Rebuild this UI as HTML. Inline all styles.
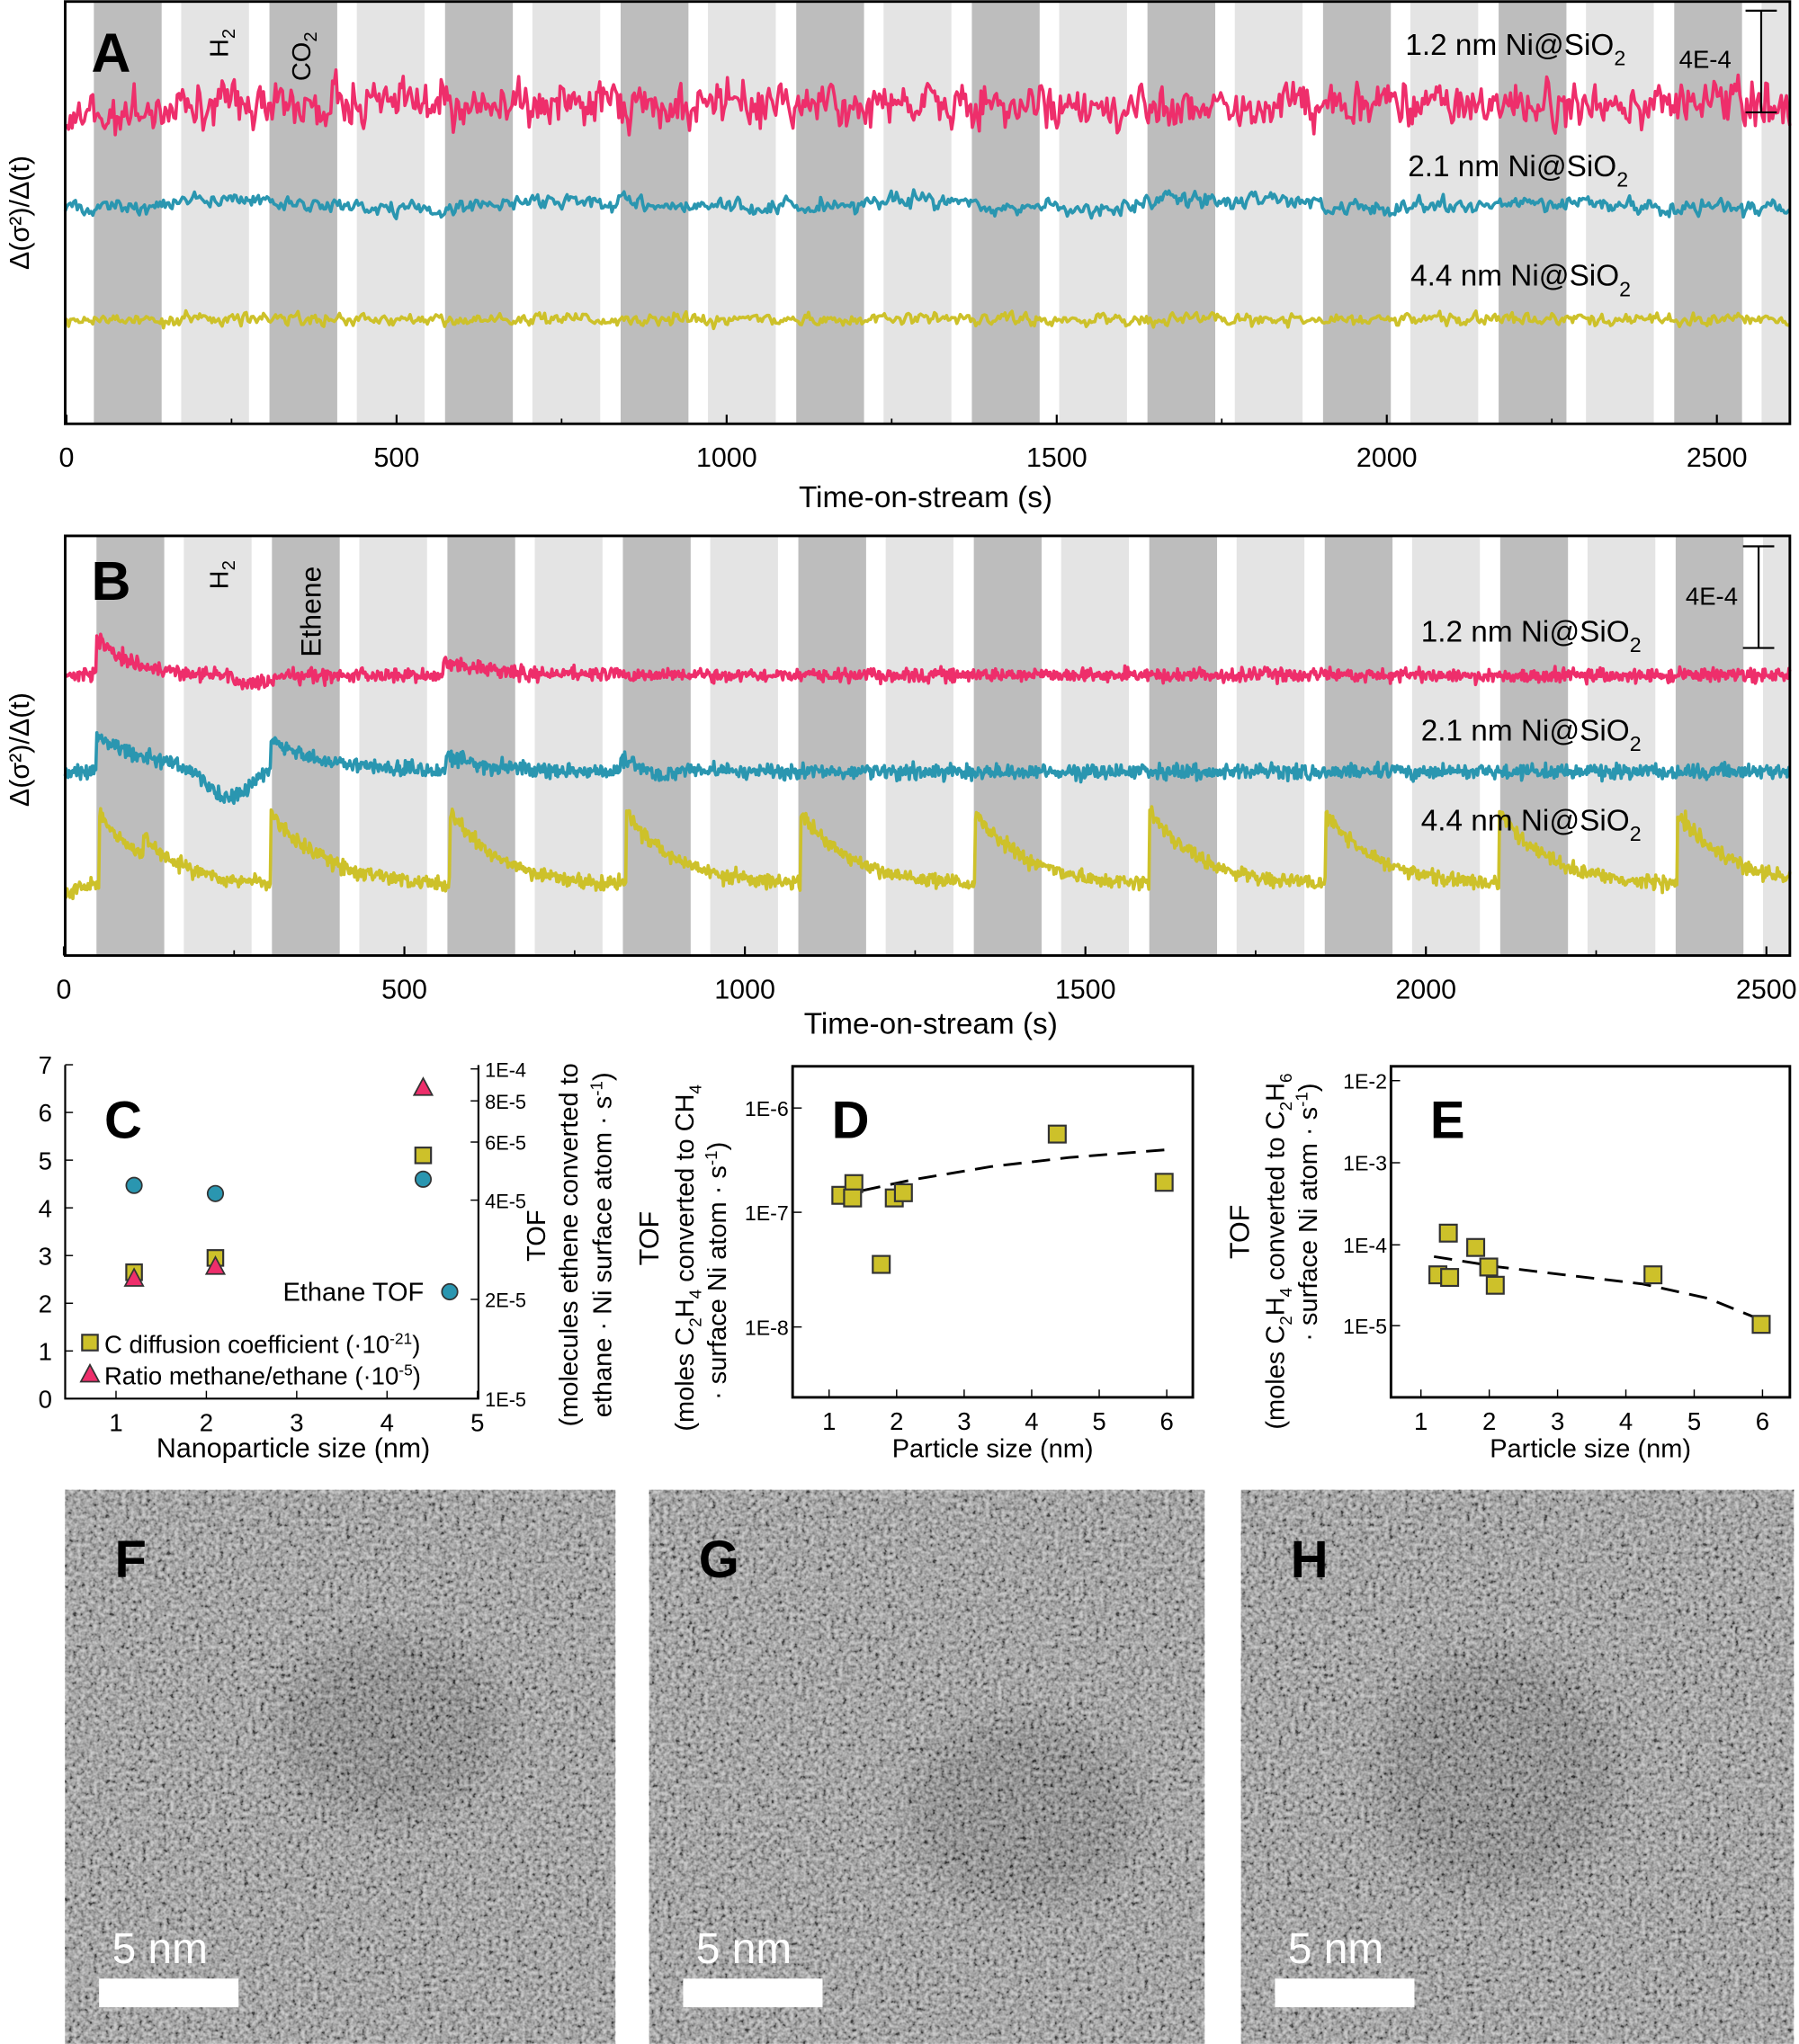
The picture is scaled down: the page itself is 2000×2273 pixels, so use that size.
<!DOCTYPE html>
<html><head><meta charset="utf-8"><style>
html,body{margin:0;padding:0;background:#fff}
svg{display:block}
text{font-family:"Liberation Sans",sans-serif;fill:#000}
</style></head><body>
<svg id="s" width="2000" height="2273" viewBox="0 0 1380 1568" xmlns="http://www.w3.org/2000/svg">
<defs>
<filter id="grain" x="0" y="0" width="100%" height="100%">
<feTurbulence type="fractalNoise" baseFrequency="0.32" numOctaves="2" seed="7" result="t"/>
<feColorMatrix in="t" type="saturate" values="0" result="g"/>
<feComponentTransfer in="g"><feFuncR type="linear" slope="2.4" intercept="-0.7"/><feFuncG type="linear" slope="2.4" intercept="-0.7"/><feFuncB type="linear" slope="2.4" intercept="-0.7"/><feFuncA type="linear" slope="0" intercept="0.55"/></feComponentTransfer>
</filter>
<filter id="blur"><feGaussianBlur stdDeviation="14"/></filter>
</defs>
<g id="bands"></g>
<g id="traces" fill="none" stroke-width="2.5" stroke-linejoin="round"></g>
<g id="static"></g>
</svg>
<script>
const S=document.getElementById('s');const NS='http://www.w3.org/2000/svg';
function el(t,a,p){const e=document.createElementNS(NS,t);for(const k in a)e.setAttribute(k,a[k]);(p||S).appendChild(e);return e}
function tx(x,y,s,sz,opt){opt=opt||{};const e=el('text',Object.assign({x:x,y:y,'font-size':sz},opt.a||{}),opt.p);e.innerHTML=s;return e}
let seed=12345;function rnd(){seed=(seed*1103515245+12345)%2147483648;return seed/2147483648}
function gauss(){return (rnd()+rnd()+rnd()+rnd()-2)}
const B=document.getElementById('bands');
function bands(y0,h,dark,light,w,x1){
 dark.forEach(x=>el('rect',{x:x,y:y0,width:Math.min(w,x1-x),height:h,fill:'#bdbdbd'},B));
 light.forEach(x=>el('rect',{x:x,y:y0,width:Math.min(w,x1-x),height:h,fill:'#e4e4e4'},B));
}
let dA=[],lA=[];for(let i=0;i<10;i++){dA.push(72+134.7*i);lA.push(139+134.7*i)}
bands(1,324,dA,lA,52,1373);
let dB=[],lB=[];for(let i=0;i<10;i++){dB.push(74+134.6*i);lB.push(141+134.6*i)}
bands(411,322,dB,lB,52,1373);
const T=document.getElementById('traces');
function trace(col,fn,x0,x1,n){let pts=[];for(let i=0;i<=n;i++){const x=x0+(x1-x0)*i/n;pts.push(x.toFixed(1)+','+fn(x,i).toFixed(1))}el('polyline',{points:pts.join(' '),stroke:col},T)}
let sm=0;
trace('#ee2e6b',(x)=>{sm=0.3*sm+gauss()*14;return 80+sm+(x<120?8:0)+(x>255&&x<259?-28:0)},50,1373,1000);
sm=0;trace('#2a96b0',(x)=>{sm=0.5*sm+gauss()*5;return 157+sm+3*Math.sin(x/40)},50,1373,1000);
sm=0;trace('#cdc12a',(x)=>{sm=0.4*sm+gauss()*4;return 245+sm},50,1373,1000);
function decay(x,starts,amp,tau){let v=0;starts.forEach(s=>{if(x>=s)v+=amp*Math.exp(-(x-s)/tau)});return v}
trace('#ee2e6b',(x)=>{return 518+gauss()*4.5-decay(x,[74],30,25)-decay(x,[340],10,40)+(x>180&&x<210?6:0)},50,1373,1800);
trace('#2a96b0',(x)=>{let v=592+gauss()*5;const k=Math.max(0,1-(x-50)/900);v-=decay(x,[74,208],30*k,40);
 v+=Math.max(0,1-(x-50)/800)*27*Math.exp(-Math.pow((x-175)/20,2));
 v-=decay(x,[342,476],20*k,30);
 v+=k*14*(Math.exp(-Math.pow((x-505)/15,2))+Math.exp(-Math.pow((x-930)/12,2))*0.7);
 return v},50,1373,1800);
trace('#cdc12a',(x)=>{let v=680+gauss()*5;v-=decay(x,[76,208,345,480,614,748,882,1017,1150,1287],55,40);v-=decay(x,[110],15,25);if(x<60)v+=(60-x)*0.8;return v},50,1373,1800);
const G=document.getElementById('static');
function axisFrame(x0,y0,x1,y1){el('rect',{x:x0,y:y0,width:x1-x0,height:y1-y0,fill:'none',stroke:'#000','stroke-width':2},G)}
axisFrame(50,1,1373,325);axisFrame(50,411,1373,733);
function xTicks(y,x0,scale,vals,minor){vals.forEach(v=>{const x=x0+v*scale;el('line',{x1:x,y1:y,x2:x,y2:y-7,stroke:'#000','stroke-width':1.5},G);tx(x,y+33,String(v),21,{a:{'text-anchor':'middle'},p:G})});
 minor.forEach(v=>{const x=x0+v*scale;el('line',{x1:x,y1:y,x2:x,y2:y-4,stroke:'#000','stroke-width':1.2},G)})}
xTicks(325,51,0.5064,[0,500,1000,1500,2000,2500],[250,750,1250,1750,2250]);
xTicks(733,49,0.5224,[0,500,1000,1500,2000,2500],[250,750,1250,1750,2250]);
tx(710,389,'Time-on-stream (s)',23,{a:{'text-anchor':'middle'},p:G});
tx(714,793,'Time-on-stream (s)',23,{a:{'text-anchor':'middle'},p:G});
tx(0,0,'Δ(σ²)/Δ(t)',21,{a:{transform:'translate(22,163) rotate(-90)','text-anchor':'middle'},p:G});
tx(0,0,'Δ(σ²)/Δ(t)',21,{a:{transform:'translate(22,575) rotate(-90)','text-anchor':'middle'},p:G});
tx(70,55,'A',42,{a:{'font-weight':'bold'},p:G});tx(70,460,'B',42,{a:{'font-weight':'bold'},p:G});
tx(0,0,'H<tspan font-size="14" dy="5">2</tspan>',20,{a:{transform:'translate(175,44) rotate(-90)'},p:G});
tx(0,0,'CO<tspan font-size="14" dy="5">2</tspan>',20,{a:{transform:'translate(238,62) rotate(-90)'},p:G});
tx(0,0,'H<tspan font-size="14" dy="5">2</tspan>',20,{a:{transform:'translate(175,452) rotate(-90)'},p:G});
tx(0,0,'Ethene',22,{a:{transform:'translate(246,504) rotate(-90)'},p:G});
function lab(x,y,s){tx(x,y,s+' nm Ni@SiO<tspan font-size="16" dy="8">2</tspan>',23,{p:G})}
lab(1078,42,'1.2');lab(1080,135,'2.1');lab(1082,219,'4.4');
lab(1090,492,'1.2');lab(1090,568,'2.1');lab(1090,637,'4.4');
tx(1288,52,'4E-4',19,{p:G});tx(1293,464,'4E-4',19,{p:G});
[[1351,8,86],[1349,419,497]].forEach(a=>{el('line',{x1:a[0],y1:a[1],x2:a[0],y2:a[2],stroke:'#000','stroke-width':1.5},G);el('line',{x1:a[0]-12,y1:a[1],x2:a[0]+12,y2:a[1],stroke:'#000','stroke-width':1.5},G);el('line',{x1:a[0]-12,y1:a[2],x2:a[0]+12,y2:a[2],stroke:'#000','stroke-width':1.5},G)});
el('polyline',{points:'50,817 50,1073 367,1073 367,817',fill:'none',stroke:'#000','stroke-width':1.5},G);
for(let v=0;v<=7;v++){const y=1073-v*36.6;el('line',{x1:50,y1:y,x2:56,y2:y,stroke:'#000'},G);tx(40,y+7,String(v),19,{a:{'text-anchor':'end'},p:G})}
for(let v=1;v<=5;v++){const x=89+(v-1)*69.3;el('line',{x1:x,y1:1073,x2:x,y2:1067,stroke:'#000'},G);tx(x,1098,String(v),19,{a:{'text-anchor':'middle'},p:G})}
const lg=(v)=>1073-(Math.log10(v)+5)*253;
[[1e-4,'1E-4'],[8e-5,'8E-5'],[6e-5,'6E-5'],[4e-5,'4E-5'],[2e-5,'2E-5'],[1e-5,'1E-5']].forEach(a=>{const y=lg(a[0]);el('line',{x1:367,y1:y,x2:361,y2:y,stroke:'#000'},G);tx(372,y+6,a[1],15,{p:G})});
tx(0,0,'TOF',20,{a:{transform:'translate(418,948) rotate(-90)','text-anchor':'middle'},p:G});
tx(0,0,'(molecules ethene converted to',20,{a:{transform:'translate(443,955) rotate(-90)','text-anchor':'middle'},p:G});
tx(0,0,'ethane · Ni surface atom · s<tspan font-size="13" dy="-7">-1</tspan><tspan dy="7">)</tspan>',20,{a:{transform:'translate(469,955) rotate(-90)','text-anchor':'middle'},p:G});
tx(80,873,'C',40,{a:{'font-weight':'bold'},p:G});
const cx=v=>89+(v-1)*69.3,cy=v=>1073-v*36.6;
function sq(x,y,s){el('rect',{x:x-s/2,y:y-s/2,width:s,height:s,fill:'#cdc12a',stroke:'#333','stroke-width':1.5},G)}
function tri(x,y){el('polygon',{points:`${x},${y-8} ${x-7},${y+5} ${x+7},${y+5}`,fill:'#ee2e6b',stroke:'#333','stroke-width':1.2},G)}
function circ(x,y){el('circle',{cx:x,cy:y,r:6,fill:'#2a96b0',stroke:'#333','stroke-width':1.2},G)}
sq(cx(1.2),cy(2.65),12);sq(cx(2.1),cy(2.95),12);sq(cx(4.4),cy(5.1),12);
tri(cx(1.2),cy(2.5));tri(cx(2.1),cy(2.75));tri(cx(4.4),cy(6.5));
circ(cx(1.2),cy(4.47));circ(cx(2.1),cy(4.3));circ(cx(4.4),cy(4.6));
tx(217,998,'Ethane TOF',20,{p:G});circ(345,991);
sq(69,1030,12);tx(80,1038,'C diffusion coefficient (·10<tspan font-size="12" dy="-7">-21</tspan><tspan dy="7">)</tspan>',19,{p:G});
tri(69,1055);tx(80,1062,'Ratio methane/ethane (·10<tspan font-size="12" dy="-7">-5</tspan><tspan dy="7">)</tspan>',19,{p:G});
tx(225,1118,'Nanoparticle size (nm)',21,{a:{'text-anchor':'middle'},p:G});
function logPanel(x0,x1,y0,y1,px1,px6,ticks,dash,pts,letter){
 axisFrame(x0,y0,x1,y1);
 for(let v=1;v<=6;v++){const x=px1+(v-1)*(px6-px1)/5;el('line',{x1:x,y1:y1,x2:x,y2:y1-6,stroke:'#000'},G);tx(x,y1+25,String(v),19,{a:{'text-anchor':'middle'},p:G})}
 ticks.forEach(t=>{el('line',{x1:x0,y1:t[0],x2:x0+7,y2:t[0],stroke:'#000'},G);tx(x0-3,t[0]+6,t[1],16,{a:{'text-anchor':'end'},p:G})});
 el('polyline',{points:dash,fill:'none',stroke:'#000','stroke-width':2,'stroke-dasharray':'14,8'},G);
 pts.forEach(p=>sq(p[0],p[1],13));
 tx(x0+30,873,letter,40,{a:{'font-weight':'bold'},p:G});
 tx((x0+x1)/2,1118,'Particle size (nm)',20,{a:{'text-anchor':'middle'},p:G});
}
logPanel(608,915,818,1072,636,895,[[850,'1E-6'],[930,'1E-7'],[1018,'1E-8']],'640,918 700,905 760,895 820,888 895,882',
 [[645,917],[655,908],[654,919],[686,919],[693,915],[676,970],[811,870],[893,907]],'D');
tx(0,0,'TOF',21,{a:{transform:'translate(505,950) rotate(-90)','text-anchor':'middle'},p:G});
tx(0,0,'(moles C<tspan font-size="13" dy="6">2</tspan><tspan dy="-6">H</tspan><tspan font-size="13" dy="6">4</tspan><tspan dy="-6"> converted to CH</tspan><tspan font-size="13" dy="6">4</tspan>',20,{a:{transform:'translate(532,965) rotate(-90)','text-anchor':'middle'},p:G});
tx(0,0,'· surface Ni atom · s<tspan font-size="13" dy="-7">-1</tspan><tspan dy="7">)</tspan>',20,{a:{transform:'translate(557,975) rotate(-90)','text-anchor':'middle'},p:G});
logPanel(1067,1373,818,1072,1090,1352,[[829,'1E-2'],[892,'1E-3'],[955,'1E-4'],[1017,'1E-5']],'1100,964 1150,972 1200,978 1260,985 1310,996 1352,1013',
 [[1103,978],[1111,946],[1112,980],[1132,957],[1142,972],[1147,986],[1268,978],[1351,1016]],'E');
tx(0,0,'TOF',21,{a:{transform:'translate(958,945) rotate(-90)','text-anchor':'middle'},p:G});
tx(0,0,'(moles C<tspan font-size="13" dy="6">2</tspan><tspan dy="-6">H</tspan><tspan font-size="13" dy="6">4</tspan><tspan dy="-6"> converted to C</tspan><tspan font-size="13" dy="6">2</tspan><tspan dy="-6">H</tspan><tspan font-size="13" dy="6">6</tspan>',20,{a:{transform:'translate(985,960) rotate(-90)','text-anchor':'middle'},p:G});
tx(0,0,'· surface Ni atom · s<tspan font-size="13" dy="-7">-1</tspan><tspan dy="7">)</tspan>',20,{a:{transform:'translate(1010,930) rotate(-90)','text-anchor':'middle'},p:G});
function tem(x,w,px,py,rx,ry,letter){
 el('rect',{x:x,y:1143,width:w,height:425,fill:'#8c8c8c'},G);
 el('ellipse',{cx:px,cy:py,rx:rx,ry:ry,fill:'#404040',opacity:0.5,filter:'url(#blur)'},G);
 el('rect',{x:x,y:1143,width:w,height:425,fill:'#888',filter:'url(#grain)'},G);
 tx(x+38,1210,letter,40,{a:{'font-weight':'bold'},p:G});
 tx(x+36,1506,'5 nm',33,{a:{style:'fill:#fff'},p:G});
 el('rect',{x:x+26,y:1518,width:107,height:22,fill:'#fff'},G);
}
tem(50,422,300,1325,85,70,'F');tem(498,426,785,1390,88,72,'G');tem(952,424,1148,1360,92,92,'H');
</script>
</body></html>
